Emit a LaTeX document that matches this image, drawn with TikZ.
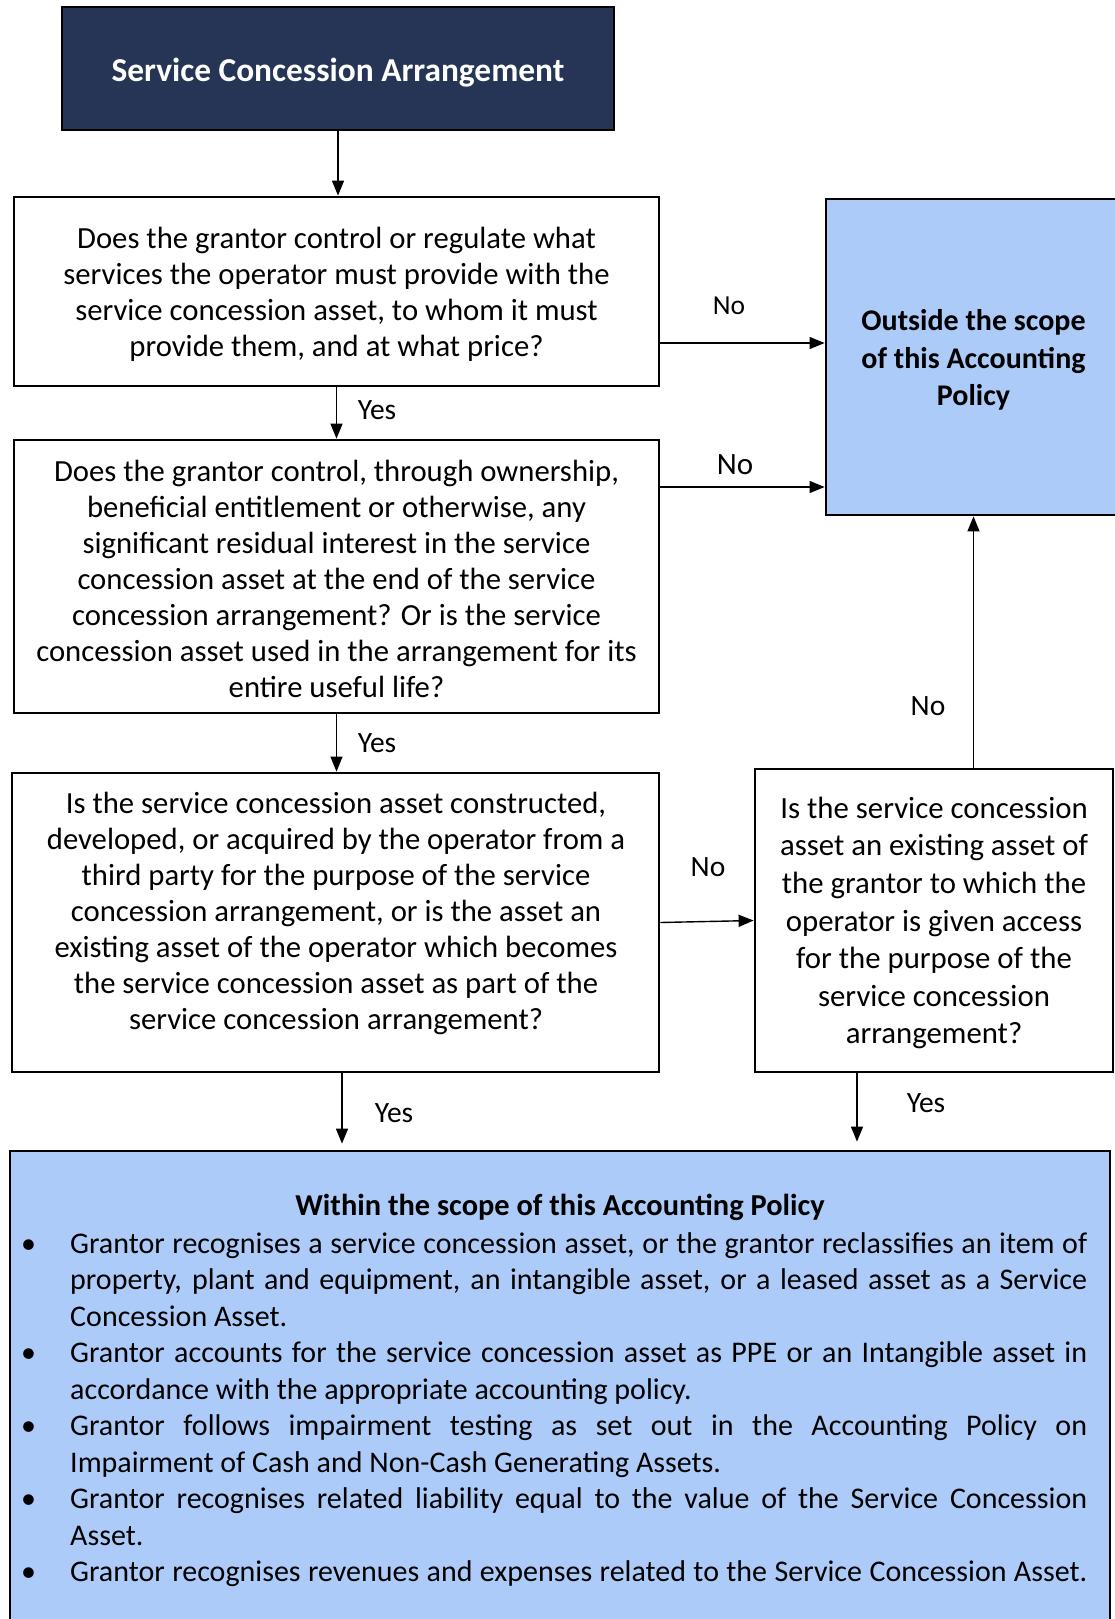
\documentclass[tikz,border=0pt]{standalone}
\usepackage{fontspec}
\setmainfont{Carlito}
\usetikzlibrary{arrows.meta,calc}
\definecolor{navy}{RGB}{38,52,86}
\definecolor{lblue}{RGB}{172,203,248}
\newcommand{\jl}[1]{\makebox[1017pt][s]{#1}}
\newcommand{\bul}{\llap{\makebox[49pt][l]{•}}}
\begin{document}
\begin{tikzpicture}[x=1pt,y=-1pt,
  box/.style={draw=black,line width=2.8pt,rectangle,inner sep=0pt},
  txt/.style={align=center,font=\fontsize{30.7}{36}\selectfont,inner sep=0pt},
  lab/.style={font=\fontsize{29.5}{34}\selectfont,inner sep=0pt},
  arr/.style={line width=1.4pt,-{Triangle[length=15pt,width=12pt]}}]
\useasboundingbox (0,0) rectangle (1115,1619);
\clip (0,0) rectangle (1115,1619);

% boxes
\node[box,fill=navy,minimum width=552pt,minimum height=123pt] (top) at (338,68.5) {};
\node[box,minimum width=645pt,minimum height=189pt] (b1) at (336.5,291.5) {};
\node[box,minimum width=645pt,minimum height=273pt] (b2) at (336.5,576.5) {};
\node[box,minimum width=647pt,minimum height=299pt] (b3) at (335.5,922.5) {};
\node[box,minimum width=358pt,minimum height=303pt] (b4) at (934,920.5) {};
\node[box,fill=lblue,minimum width=295pt,minimum height=316pt] (out) at (973.5,357) {};
\node[box,fill=lblue,minimum width=1100pt,minimum height=489pt] (bot) at (560,1395.5) {};

% texts
\node[inner sep=0pt,text=white,font=\fontsize{33.4}{36}\selectfont\bfseries] (ttop) at ([yshift=-4pt]top.center) {Service Concession Arrangement};
\node[txt] (t1) at ([yshift=-3pt]b1.center)
  {Does the grantor control or regulate what\\ services the operator must provide with the\\ service concession asset, to whom it must\\ provide them, and at what price?};
\node[txt] (t2) at ([yshift=-2pt]b2.center)
  {Does the grantor control, through ownership,\\ beneficial entitlement or otherwise, any\\ significant residual interest in the service\\ concession asset at the end of the service\\ concession arrangement? Or is the service\\ concession asset used in the arrangement for its\\ entire useful life?};
\node[txt] (t3) at (336,913)
  {Is the service concession asset constructed,\\ developed, or acquired by the operator from a\\ third party for the purpose of the service\\ concession arrangement, or is the asset an\\ existing asset of the operator which becomes\\ the service concession asset as part of the\\ service concession arrangement?};
\node[txt,font=\fontsize{30.8}{37.6}\selectfont] (t4) at ([yshift=-2.5pt]b4.center)
  {Is the service concession\\ asset an existing asset of\\ the grantor to which the\\ operator is given access\\ for the purpose of the\\ service concession\\ arrangement?};
\node[txt,font=\fontsize{30}{37.5}\selectfont\bfseries] (tout) at ([yshift=-3pt]out.center)
  {Outside the scope\\ of this Accounting\\ Policy};
\node[inner sep=0pt,font=\fontsize{30.4}{36}\selectfont\bfseries] (bttl) at (560,1207) {Within the scope of this Accounting Policy};
\node[anchor=north west,inner sep=0pt,align=left,font=\fontsize{30}{36.5}\selectfont] (blist) at (70,1232)
  {\spaceskip=0.226em plus 0.4em minus 0.14em
   \bul\jl{Grantor recognises a service concession asset, or the grantor reclassifies an item of}\\
   \jl{property, plant and equipment, an intangible asset, or a leased asset as a Service}\\
   Concession Asset.\\
   \bul\jl{Grantor accounts for the service concession asset as PPE or an Intangible asset in}\\
   accordance with the appropriate accounting policy.\\
   \bul\jl{Grantor follows impairment testing as set out in the Accounting Policy on}\\
   Impairment of Cash and Non-Cash Generating Assets.\\
   \bul\jl{Grantor recognises related liability equal to the value of the Service Concession}\\
   Asset.\\
   \bul\jl{Grantor recognises revenues and expenses related to the Service Concession Asset.}};

% helper coordinates
\coordinate (yA) at (0,343);
\coordinate (yB) at (0,487);
\coordinate (xL) at (342,0);
\coordinate (xR) at (857,0);

% connectors
\draw[arr] (top.south) -- (top.south |- b1.north);
\draw[arr] (b1.south) -- (b1.south |- b2.north);
\draw[arr] (b2.south) -- (b2.south |- b3.north);
\draw[arr] (b1.east |- yA) -- (out.west |- yA);
\draw[arr] (b2.east |- yB) -- (out.west |- yB);
\draw[arr] (b3.east) -- (b4.west);
\draw[arr] (out.south |- b4.north) -- (out.south);
\draw[arr,shorten >=6pt] (xL |- b3.south) -- (xL |- bot.north);
\draw[arr,shorten >=8pt] (xR |- b4.south) -- (xR |- bot.north);

% labels
\node[lab] (l1) at (377,410) {Yes};
\node[lab,font=\fontsize{27.5}{34}\selectfont] (l2) at (729,306) {No};
\node[lab,font=\fontsize{31}{34}\selectfont] (l3) at (735,465) {No};
\node[lab] (l4) at (377,743) {Yes};
\node[lab] (l5) at (708,867) {No};
\node[lab] (l6) at (928,706) {No};
\node[lab] (l7) at (394,1113) {Yes};
\node[lab] (l8) at (926,1103) {Yes};
\end{tikzpicture}
\end{document}
